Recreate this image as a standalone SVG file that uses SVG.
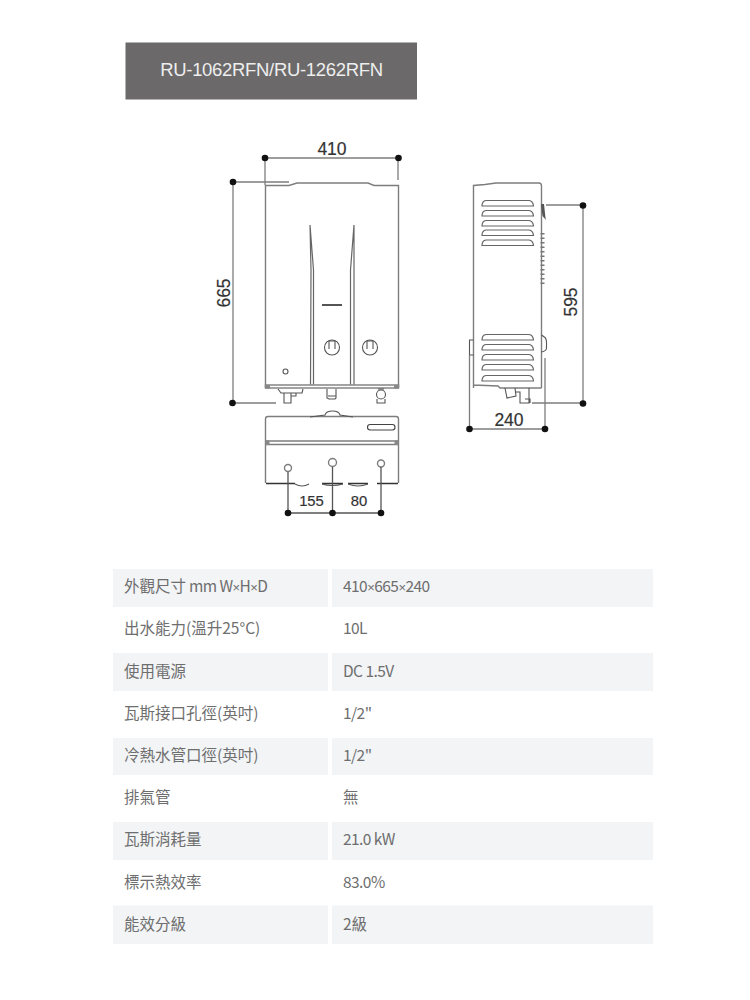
<svg xmlns="http://www.w3.org/2000/svg" width="750" height="1000" viewBox="0 0 750 1000">
<style>
.l{fill:none;stroke:#7d7d7d;stroke-width:1.4}
.t{fill:none;stroke:#555;stroke-width:1.1}
.d{fill:#111}
.n{font-family:"Liberation Sans",Arial,sans-serif;font-size:17.5px;fill:#333;stroke:#333;stroke-width:.2;text-anchor:middle}
.s{font-size:14.800px}
.c{font-family:"Noto Sans CJK TC","Noto Sans CJK SC",sans-serif;font-size:15.5px;fill:#6e6e6e}
.m{letter-spacing:-.55px}
.x{font-family:"Liberation Sans",Arial,sans-serif;font-size:13px}
.r{fill:#f2f4f6}
</style>
<rect width="750" height="1000" fill="#fff"/>
<g id="header"><rect x="125.5" y="42.5" width="291.5" height="57" fill="#6b6969"/>
<text x="271.500" y="76" font-family="'Liberation Sans',Arial,sans-serif" font-size="18.500" fill="#eee" text-anchor="middle" letter-spacing="-.32">RU-1062RFN/RU-1262RFN</text></g>
<g id="front-view">
<path class="l" d="M265.5 388V185.500H289L297 183H368L374 185.500H398.500V388"/>
<rect class="l" x="265.500" y="385" width="133" height="3"/>
<rect x="265" y="385" width="5" height="3.500" fill="#888"/><rect x="394" y="385" width="5" height="3.500" fill="#888"/>
<path d="M310 225L313.500 270V384.500M310 225L311 270L310.500 384.500" fill="none" stroke="#666" stroke-width="1.200"/>
<path d="M354 225L350.500 270V384.500M354 225L354 384.500" fill="none" stroke="#666" stroke-width="1.200"/>
<rect x="322" y="304" width="20" height="2" fill="#555"/>
<circle class="t" cx="332" cy="347.500" r="7.500"/><path class="t" d="M329 341V349M335 341V349M329 341H335"/>
<circle class="t" cx="370" cy="347.500" r="7.500"/><path class="t" d="M367 341V349M373 341V349M367 341H373"/>
<circle class="t" cx="285.500" cy="371.500" r="2.500"/>
<path class="t" d="M278 389L281 393H302L303 389M284 393V403H291V393M291 396H296V393"/>
<path class="t" d="M327 389V398L329 399H335L336 398V389M328 396H336"/>
<circle class="t" cx="381" cy="394.500" r="4.500"/><path class="t" d="M377 399V403H385V399M378 389H384"/>
</g>
<g id="bottom-view">
<path class="l" d="M265.500 483V419Q265.500 416.500 268 416.500H396Q398.500 416.500 398.500 419V483"/>
<path class="t" d="M310 417L325 415Q326 411 332.500 411Q339 411 340 415L353 417"/>
<path class="l" d="M265.500 441H398.500M265.500 444.500H398.500"/>
<rect x="265.500" y="440.500" width="4" height="4.500" fill="#888"/><rect x="394.500" y="440.500" width="4" height="4.500" fill="#888"/>
<rect x="367.500" y="424.500" width="27.500" height="5.500" rx="2.700" fill="none" stroke="#444" stroke-width="1.100"/>
<path d="M266 483.500H295M322 483.500H343M348 483.500H368M377 483.500H398" stroke="#333" stroke-width="1.300"/>
<path class="t" d="M295 484Q302 488 309 484M322 484Q332 487 343 484M348 484Q358 488 368 484"/>
<circle class="l" cx="288" cy="468" r="3.500"/><circle class="l" cx="332.500" cy="462.500" r="4"/><circle class="l" cx="381" cy="463.500" r="3.500"/>
</g>
<g id="side-view">
<path class="l" d="M473.500 388V185.500L485 184.500L496 183H539Q541.500 183 541.500 186V388M473.500 385L498 386L500 388H541.500"/>
<g fill="none" stroke="#666" stroke-width="1.200">
<path id="lv" d="M482 206Q482 201 486 200.500H529Q533 201 533.500 206H482Z"/>
<use href="#lv" y="10"/><use href="#lv" y="20"/><use href="#lv" y="29.500"/><use href="#lv" y="39.500"/>
<use href="#lv" y="134"/><use href="#lv" y="144"/><use href="#lv" y="154"/><use href="#lv" y="164"/><use href="#lv" y="175"/>
</g>
<path d="M541 204H544L545.500 218L546 220L542.500 216Z" fill="#555"/>
<path d="M542.500 233V284" stroke="#777" stroke-width="4" stroke-dasharray="1.500 3"/>
<path class="t" d="M541.500 335L545 337.500Q546.500 339 546.500 342V348Q546.500 351 541.500 352M473.500 340H469.500V355H473.500"/>
<path class="t" d="M505 388L507 398L516 396L515 388M516 392H520V403H529V388M525 399H530V403"/>
</g>
<g id="connectors" fill="none" stroke="#7d7d7d" stroke-width="1.300">
<path d="M265 158H398M265 158V185M398 158V180"/>
<path d="M233 182H289M233 182V403M233 403H276"/>
<path d="M288 472V513M332.500 467V513M381 467V513M288 513H381" stroke="#555"/>
<path d="M546 205H583V403H532"/>
<path d="M469.500 355V429H545V358"/>
</g>
<g id="dimensions">
<g class="d"><circle cx="265" cy="158" r="3.300"/><circle cx="398.500" cy="158" r="3.300"/><circle cx="233" cy="182" r="3.300"/><circle cx="232.500" cy="403" r="3.300"/><circle cx="288" cy="513" r="3.300"/><circle cx="332.500" cy="513" r="3.300"/><circle cx="381" cy="513" r="3.300"/><circle cx="583" cy="205.500" r="3.300"/><circle cx="583" cy="403.500" r="3.300"/><circle cx="469.500" cy="429" r="3.300"/><circle cx="545" cy="429" r="3.300"/></g>
<text class="n" x="332" y="154.500">410</text>
<text class="n" transform="translate(230 293) rotate(-90)">665</text>
<text class="n" transform="translate(577 302) rotate(-90)">595</text>
<text class="n" x="509" y="426">240</text>
<text class="n s" x="311.500" y="505.500">155</text>
<text class="n s" x="359" y="505.500">80</text>
</g>
<g id="spec-table">
<rect class="r" x="113" y="569" width="215" height="38"/><rect class="r" x="332" y="569" width="321" height="38"/>
<rect class="r" x="113" y="653" width="215" height="38"/><rect class="r" x="332" y="653" width="321" height="38"/>
<rect class="r" x="113" y="738" width="215" height="37"/><rect class="r" x="332" y="738" width="321" height="37"/>
<rect class="r" x="113" y="822" width="215" height="38"/><rect class="r" x="332" y="822" width="321" height="38"/>
<rect class="r" x="113" y="905.500" width="215" height="38.500"/><rect class="r" x="332" y="905.500" width="321" height="38.500"/>
<text class="c" x="124" y="592">外觀尺寸<tspan class="m"> mm W<tspan class="x">×</tspan>H<tspan class="x">×</tspan>D</tspan></text><text class="c m" x="343" y="592">410<tspan class="x">×</tspan>665<tspan class="x">×</tspan>240</text>
<text class="c" x="124" y="634">出水能力(溫升25°C)</text><text class="c m" x="343" y="634">10L</text>
<text class="c" x="124" y="677">使用電源</text><text class="c m" x="343" y="677">DC 1.5V</text>
<text class="c" x="124" y="719">瓦斯接口孔徑(英吋)</text><text class="c m" x="343" y="719">1/2"</text>
<text class="c" x="124" y="761">冷熱水管口徑(英吋)</text><text class="c m" x="343" y="761">1/2"</text>
<text class="c" x="124" y="803">排氣管</text><text class="c" x="343" y="803">無</text>
<text class="c" x="124" y="845">瓦斯消耗量</text><text class="c m" x="343" y="845">21.0 kW</text>
<text class="c" x="124" y="888">標示熱效率</text><text class="c m" x="343" y="888">83.0%</text>
<text class="c" x="124" y="930">能效分級</text><text class="c" x="343" y="930">2級</text>
</g>
</svg>
